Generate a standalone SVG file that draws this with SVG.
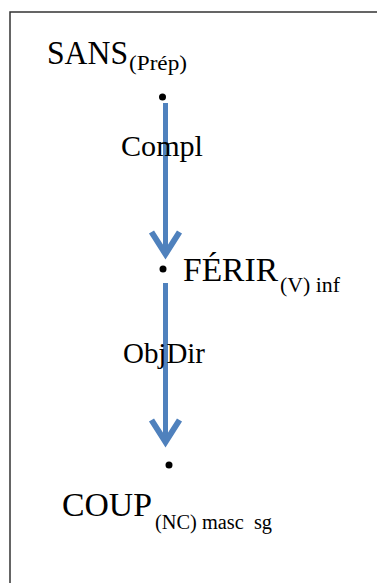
<svg xmlns="http://www.w3.org/2000/svg" width="377" height="583" viewBox="0 0 377 583" font-family="Liberation Serif">
<style>
.frame{fill:none;stroke:#333;stroke-width:1.5}
.edge{stroke:#4F81BD;stroke-width:5;fill:none}
.dot{fill:#000}
.main{font-size:33px}
.sub{font-size:20px}
.lbl{font-size:28.5px}
</style>
<defs>
<marker id="chev" markerUnits="userSpaceOnUse" markerWidth="40" markerHeight="40" viewBox="-30 -20 40 40" refX="0" refY="0" orient="auto" overflow="visible">
<path d="M-22,-14 L0,0 L-22,14" fill="none" stroke="#4F81BD" stroke-width="6"/>
</marker>
</defs>
<rect width="377" height="583" fill="#fff"/>
<path class="frame" d="M10,583 L10,12 L377,12"/>
<g id="connectors">
<line class="edge" x1="165.5" y1="103" x2="165.5" y2="254" marker-end="url(#chev)"/>
<line class="edge" x1="165.5" y1="283" x2="165.5" y2="442" marker-end="url(#chev)"/>
</g>
<g id="sans">
<circle class="dot" cx="162.5" cy="97" r="3.5"/>
<text class="main" x="47" y="64" textLength="81" lengthAdjust="spacingAndGlyphs">SANS</text>
<text class="sub" x="129" y="70" textLength="58" lengthAdjust="spacingAndGlyphs">(Prép)</text>
</g>
<g id="ferir">
<circle class="dot" cx="163" cy="269" r="3.5"/>
<text class="main" x="183" y="281" textLength="95" lengthAdjust="spacingAndGlyphs">FÉRIR</text>
<text class="sub" x="280" y="292" textLength="60" lengthAdjust="spacingAndGlyphs">(V) inf</text>
</g>
<g id="coup">
<circle class="dot" cx="169" cy="465" r="3.5"/>
<text class="main" x="62" y="516" textLength="90" lengthAdjust="spacingAndGlyphs">COUP</text>
<text class="sub" x="155" y="529" textLength="117" lengthAdjust="spacingAndGlyphs" xml:space="preserve">(NC) masc  sg</text>
</g>
<g id="labels">
<text class="lbl" x="121" y="156" textLength="82" lengthAdjust="spacingAndGlyphs">Compl</text>
<text class="lbl" x="123" y="363" textLength="82" lengthAdjust="spacingAndGlyphs">ObjDir</text>
</g>
</svg>
